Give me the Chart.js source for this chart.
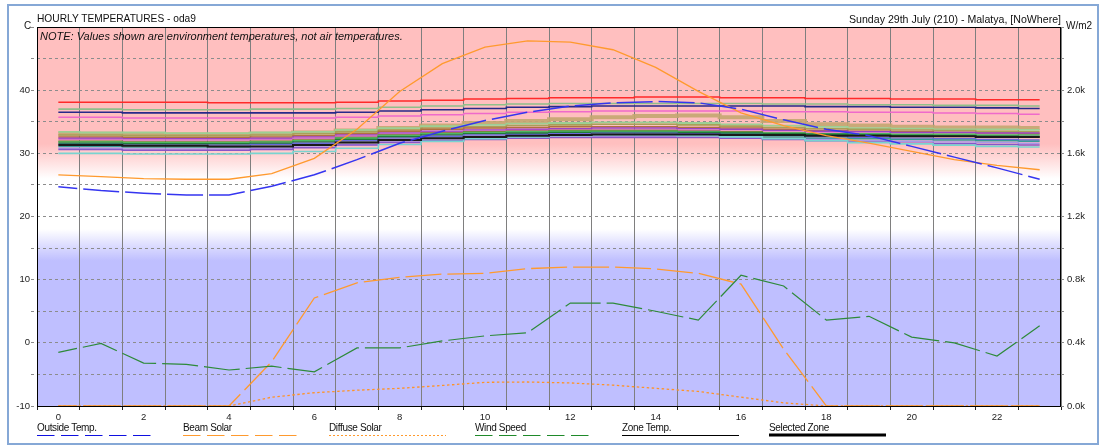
<!DOCTYPE html>
<html>
<head>
<meta charset="utf-8">
<script src="https://cdn.jsdelivr.net/npm/chart.js@4/dist/chart.umd.min.js"></script>
<style>
  html, body { margin: 0; padding: 0; background: #fff; overflow: hidden; }
  #wrap { position: relative; width: 1105px; height: 448px; font-family: "Liberation Sans", Arial, sans-serif; color: #111; }
  #frame { position: absolute; left: 7px; top: 4px; width: 1092px; height: 441px; border: 2px solid #86a8d6; box-sizing: border-box; pointer-events: none; }
  canvas { position: absolute; left: 0; top: 0; }
  .t { position: absolute; white-space: nowrap; line-height: 1; }
  .leg { position: absolute; top: 423px; font-size: 10px; line-height: 1; letter-spacing: -0.35px; white-space: nowrap; }
  #samples { position: absolute; left: 0; top: 430px; }
</style>
</head>
<body>
<div id="wrap">
  <canvas id="c" width="1105" height="448"></canvas>
  <div id="frame"></div>
  <div class="t" style="left:37px; top:14px; font-size:10.2px;">HOURLY TEMPERATURES - oda9</div>
  <div class="t" style="left:24px; top:21px; font-size:10px;">C</div>
  <div class="t" style="right:44px; top:14px; font-size:10.6px;">Sunday 29th July (210) - Malatya, [NoWhere]</div>
  <div class="t" style="left:1066px; top:21px; font-size:10px;">W/m2</div>
  <div class="t" style="left:40px; top:31px; font-size:11px; font-style:italic;">NOTE: Values shown are environment temperatures, not air temperatures.</div>

  <div class="leg" style="left:37px;">Outside Temp.</div>
  <div class="leg" style="left:183px;">Beam Solar</div>
  <div class="leg" style="left:329px;">Diffuse Solar</div>
  <div class="leg" style="left:475px;">Wind Speed</div>
  <div class="leg" style="left:622px;">Zone Temp.</div>
  <div class="leg" style="left:769px;">Selected Zone</div>
  <svg id="samples" width="1105" height="10" xmlns="http://www.w3.org/2000/svg">
    <line x1="37" y1="5.5" x2="151" y2="5.5" stroke="#1010e0" stroke-width="1" stroke-dasharray="17.5 6.5"/>
    <line x1="183" y1="5.5" x2="297" y2="5.5" stroke="#ff9a2e" stroke-width="1" stroke-dasharray="17.5 6.5"/>
    <line x1="329" y1="5.5" x2="446" y2="5.5" stroke="#ff9a2e" stroke-width="1" stroke-dasharray="2 2"/>
    <line x1="475" y1="5.5" x2="589" y2="5.5" stroke="#1f8a2a" stroke-width="1" stroke-dasharray="17.5 6.5"/>
    <line x1="622" y1="5.5" x2="739" y2="5.5" stroke="#000" stroke-width="1"/>
    <line x1="769" y1="5" x2="886" y2="5" stroke="#000" stroke-width="3"/>
  </svg>
</div>
<script>
// Hours of the day
const hours = [0,1,2,3,4,5,6,7,8,9,10,11,12,13,14,15,16,17,18,19,20,21,22,23];
const hourLabels = [0,2,4,6,8,10,12,14,16,18,20,22];

// Weather (left axis: C, right axis: W/m2)
const outsideTemp = [24.7,24.1,23.7,23.4,23.4,24.8,26.6,29.0,31.6,33.5,35.2,36.5,37.5,38.0,38.2,38.0,37.0,35.3,33.8,32.8,31.1,29.4,27.7,25.9];
const beamSolar   = [0,0,0,0,0,280,684,780,815,835,840,870,880,880,868,840,772,360,0,0,0,0,0,0];
const diffuseSolar= [0,0,0,0,0,56,84,100,112,130,150,152,146,132,112,92,56,20,0,0,0,0,0,0];
const windSpeed   = [-1.5,-0.1,-3.2,-3.4,-4.3,-3.7,-4.6,-0.8,-0.8,0.3,1.1,1.6,6.3,6.3,5.0,3.6,10.7,9.0,3.6,4.2,0.9,0.0,-2.1,2.7];

// Zone temperatures
const zoneRoof     = [26.6,26.3,26.0,25.9,25.9,26.8,29.2,33.8,39.8,44.2,46.8,47.8,47.6,46.4,43.6,39.8,36.4,34.4,32.8,31.6,30.3,29.0,28.1,27.4];
const zoneRed      = [38.1,38.1,38.1,38.1,38.0,38.0,38.0,38.1,38.3,38.4,38.6,38.7,38.8,38.8,38.9,38.9,38.8,38.8,38.7,38.7,38.6,38.6,38.5,38.5];
const zoneSage     = [37.0,37.0,36.9,36.9,36.9,37.0,37.0,37.1,37.3,37.5,37.7,37.8,37.9,37.9,37.9,37.9,37.9,37.8,37.8,37.7,37.7,37.6,37.6,37.5];
const zoneNavy     = [36.5,36.5,36.4,36.4,36.4,36.4,36.4,36.5,36.7,36.9,37.1,37.3,37.4,37.5,37.5,37.5,37.5,37.5,37.4,37.4,37.3,37.3,37.2,37.1];
const zonePink     = [35.7,35.7,35.6,35.6,35.6,35.6,35.6,35.7,35.9,36.1,36.3,36.5,36.6,36.7,36.7,36.7,36.7,36.6,36.6,36.5,36.5,36.4,36.3,36.2];
const zoneTan      = [33.1,33.1,33.0,33.0,33.0,33.1,33.3,33.6,34.0,34.4,34.8,35.1,35.4,35.7,35.9,36.0,35.7,35.1,34.6,34.4,34.2,34.1,34.1,34.0];
const zoneLtGreen  = [33.4,33.3,33.3,33.2,33.2,33.3,33.4,33.7,34.0,34.3,34.5,34.7,34.8,34.9,34.9,34.8,34.6,34.4,34.2,34.0,33.9,33.8,33.8,33.7];
const zoneOlive    = [32.9,32.9,32.8,32.8,32.8,32.9,33.1,33.4,33.7,34.0,34.2,34.4,34.5,34.6,34.6,34.5,34.3,34.1,33.9,33.8,33.7,33.6,33.5,33.4];
const zoneBrown    = [32.6,32.6,32.5,32.5,32.5,32.6,32.8,33.1,33.5,33.8,34.0,34.1,34.2,34.2,34.2,34.1,34.0,33.8,33.6,33.5,33.4,33.3,33.2,33.1];
const zonePurple   = [32.4,32.4,32.3,32.3,32.3,32.4,32.6,32.9,33.2,33.5,33.7,33.8,33.9,34.0,34.0,33.9,33.8,33.6,33.5,33.4,33.3,33.3,33.2,33.2];
const zoneMagenta  = [32.2,32.2,32.1,32.1,32.1,32.2,32.4,32.7,33.0,33.3,33.5,33.6,33.7,33.7,33.7,33.6,33.5,33.3,33.2,33.1,33.0,32.9,32.8,32.8];
const zoneDkOlive  = [31.9,31.9,31.8,31.8,31.8,31.9,32.1,32.5,32.9,33.2,33.4,33.5,33.6,33.6,33.6,33.5,33.4,33.2,33.1,33.0,32.9,32.8,32.7,32.6];
const zoneGreen    = [31.8,31.8,31.7,31.7,31.7,31.8,32.0,32.4,32.8,33.1,33.3,33.4,33.5,33.5,33.5,33.4,33.3,33.2,33.1,33.1,33.0,33.0,32.9,32.9];
const zoneDkGreen  = [31.6,31.6,31.5,31.5,31.5,31.6,31.8,32.2,32.6,32.9,33.1,33.2,33.3,33.3,33.3,33.3,33.2,33.1,33.0,32.9,32.8,32.7,32.7,32.6];
const zoneBlue     = [31.4,31.4,31.3,31.3,31.3,31.4,31.6,32.0,32.4,32.7,32.9,33.0,33.1,33.2,33.2,33.1,33.0,32.8,32.6,32.5,32.4,32.3,32.2,32.1];
const zoneTeal     = [31.1,31.1,31.0,31.0,31.0,31.1,31.3,31.7,32.1,32.4,32.6,32.8,32.9,33.0,33.0,32.9,32.8,32.6,32.4,32.3,32.2,32.1,32.0,31.9];
const zoneLavender = [30.8,30.8,30.7,30.7,30.7,30.8,31.0,31.4,31.8,32.1,32.3,32.5,32.6,32.7,32.7,32.6,32.5,32.3,32.2,32.0,31.9,31.8,31.7,31.6];
const zoneViolet   = [30.6,30.6,30.5,30.5,30.5,30.6,30.9,31.3,31.7,32.0,32.2,32.4,32.5,32.5,32.5,32.5,32.4,32.2,32.0,31.8,31.6,31.5,31.4,31.3];
const zoneCyan     = [30.0,30.0,29.9,29.9,29.9,30.0,30.3,30.8,31.4,31.9,32.3,32.6,32.8,32.9,32.9,32.8,32.6,32.3,32.0,31.7,31.5,31.3,31.1,31.0];
const zoneSelected = [31.3,31.3,31.2,31.2,31.1,31.1,31.3,31.7,32.1,32.4,32.6,32.8,32.9,33.0,33.0,33.0,32.9,32.9,32.8,32.8,32.7,32.7,32.6,32.6];

const pts = arr => arr.map((v, i) => ({x: hours[i], y: v}));
const hourDash = [36, 6];

function zone(data, color, width) {
  return { data: pts(data), borderColor: color, borderWidth: width || 1.3, stepped: 'middle', yAxisID: 'y', order: 5 };
}

const datasets = [
  { data: pts(outsideTemp), borderColor: '#3535f0', borderWidth: 1.5, borderDash: hourDash, borderDashOffset: 17, yAxisID: 'y', order: 0 },
  { data: pts(windSpeed), borderColor: '#2e8a3a', borderWidth: 1.2, borderDash: hourDash, borderDashOffset: 17, yAxisID: 'y', order: 1 },
  { data: pts(beamSolar), borderColor: '#ff9a2e', borderWidth: 1.3, borderDash: hourDash, borderDashOffset: 17, yAxisID: 'y2', order: 1 },
  { data: pts(diffuseSolar), borderColor: '#ff9326', borderWidth: 1.3, borderDash: [2.5, 2.5], yAxisID: 'y2', order: 1 },
  { data: pts(zoneRoof), borderColor: '#ff9a2e', borderWidth: 1.3, yAxisID: 'y', order: 2 },
  zone(zoneSelected, '#1a1a1a', 2),
  zone(zoneRed, '#ff2a2a', 1.5),
  zone(zoneSage, '#8fbf8a', 1.6),
  zone(zoneNavy, '#28288a', 1.6),
  zone(zonePink, '#ef6acb', 1.5),
  zone(zoneCyan, '#78d4d0', 1.6),
  zone(zoneViolet, '#8a55c8', 1.5),
  zone(zoneLavender, '#a898e6', 1.5),
  zone(zoneTeal, '#3a9a98', 1.5),
  zone(zoneBlue, '#6a6ad8', 1.4),
  zone(zoneDkGreen, '#237a3c', 1.6),
  zone(zoneGreen, '#4cb860', 1.6),
  zone(zoneDkOlive, '#7e7a30', 1.5),
  zone(zoneMagenta, '#d674c4', 1.5),
  zone(zonePurple, '#9a44c4', 1.5),
  zone(zoneBrown, '#b07040', 1.5),
  zone(zoneOlive, '#a8a058', 1.6),
  zone(zoneLtGreen, '#9ccf94', 1.8),
  zone(zoneTan, 'rgba(196,166,112,0.9)', 4)
];

// Background bands and plot frame
const backdrop = {
  id: 'backdrop',
  beforeDraw(chart) {
    const { ctx, chartArea: a, scales: { y } } = chart;
    const h = a.bottom - a.top;
    const s = v => (y.getPixelForValue(v) - a.top) / h;
    const g = ctx.createLinearGradient(0, a.top, 0, a.bottom);
    g.addColorStop(0, 'rgb(255,191,191)');
    g.addColorStop(s(31.5), 'rgb(255,191,191)');
    g.addColorStop(s(29.5), 'rgb(255,214,214)');
    g.addColorStop(s(26), 'rgb(255,255,255)');
    g.addColorStop(s(18), 'rgb(255,255,255)');
    g.addColorStop(s(15.5), 'rgb(222,222,255)');
    g.addColorStop(s(13), 'rgb(191,191,255)');
    g.addColorStop(1, 'rgb(191,191,255)');
    ctx.save();
    ctx.fillStyle = g;
    ctx.fillRect(a.left, a.top, a.right - a.left, h);
    ctx.restore();
  },
  afterDraw(chart) {
    const { ctx, chartArea: a } = chart;
    ctx.save();
    ctx.strokeStyle = '#000';
    ctx.lineWidth = 1;
    ctx.strokeRect(Math.round(a.left) + 0.5, Math.round(a.top) + 0.5, Math.round(a.right - a.left) - 1, Math.round(a.bottom - a.top));
    ctx.restore();
  }
};

const isHalf = v => Math.abs(v - Math.round(v)) > 0.25;
const tickFont = { family: '"Liberation Sans", Arial, sans-serif', size: 9.5 };

new Chart(document.getElementById('c'), {
  type: 'line',
  data: { datasets },
  options: {
    responsive: false,
    animation: false,
    devicePixelRatio: 1,
    layout: { padding: { top: 27, left: 0, right: 0, bottom: 0 } },
    elements: { point: { radius: 0 }, line: { tension: 0, fill: false } },
    plugins: { legend: { display: false }, tooltip: { enabled: false } },
    scales: {
      x: {
        type: 'linear', min: -0.5, max: 23.5,
        afterBuildTicks: s => {
          const t = [];
          for (let v = -0.5; v <= 23.5; v += 0.5) t.push({ value: v });
          s.ticks = t;
        },
        afterFit: s => { s.height = 42; },
        grid: {
          color: c => (c.tick && isHalf(c.tick.value)) ? '#7f7f7f' : 'rgba(0,0,0,0)',
          tickColor: c => (c.tick && isHalf(c.tick.value)) ? '#222' : 'rgba(0,0,0,0)',
          tickLength: 4, lineWidth: 1
        },
        border: { display: false },
        ticks: {
          autoSkip: false, maxRotation: 0, padding: 2, color: '#222', font: tickFont,
          callback: v => hourLabels.includes(v) ? String(v) : ''
        }
      },
      y: {
        position: 'left', min: -10, max: 50,
        afterFit: s => { s.width = 37; },
        ticks: { stepSize: 5, padding: 1, color: '#222', font: tickFont,
          callback: v => (v % 10 === 0 && v < 50) ? String(v) : '' },
        grid: { color: '#8c8c8c', tickLength: 6, tickBorderDash: [3, 3] },
        border: { display: false, dash: [3, 3] }
      },
      y2: {
        position: 'right', min: 0, max: 2400,
        afterFit: s => { s.width = 44; },
        ticks: { stepSize: 200, padding: 1, color: '#222', font: tickFont,
          callback: v => (v % 400 === 0 && v < 2400) ? (v / 1000).toFixed(1) + 'k' : '' },
        grid: { drawOnChartArea: false, color: '#8c8c8c', tickLength: 5, tickBorderDash: [3, 2] },
        border: { display: false }
      }
    }
  },
  plugins: [backdrop]
});
</script>
</body>
</html>
